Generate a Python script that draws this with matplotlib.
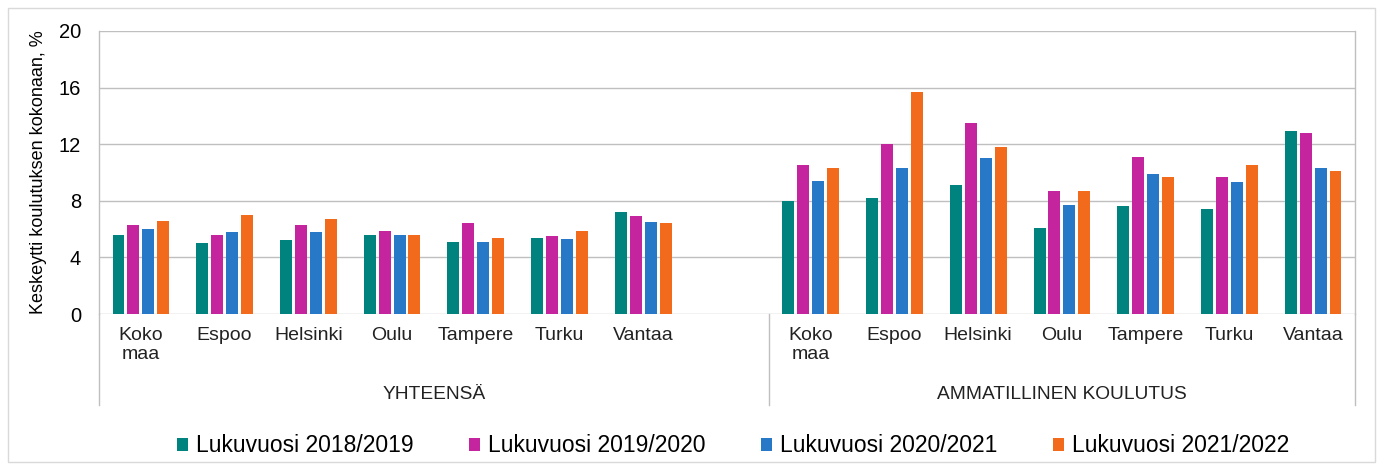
import numpy as np
import matplotlib
matplotlib.use('Agg')
import matplotlib.pyplot as plt
from matplotlib.patches import Rectangle, Patch

plt.rcParams['font.family'] = ['Liberation Sans', 'DejaVu Sans']

# data
cities = ['Koko\nmaa', 'Espoo', 'Helsinki', 'Oulu', 'Tampere', 'Turku', 'Vantaa']
groups = ['YHTEENSÄ', 'AMMATILLINEN KOULUTUS']
years = ['Lukuvuosi 2018/2019', 'Lukuvuosi 2019/2020',
         'Lukuvuosi 2020/2021', 'Lukuvuosi 2021/2022']
colors = ['#00827F', '#C4259F', '#2878C8', '#F26B1D']

# YHTEENSÄ, one list per school year
yht_1819 = [5.6, 5.0, 5.2, 5.6, 5.1, 5.4, 7.2]
yht_1920 = [6.3, 5.6, 6.3, 5.9, 6.4, 5.5, 6.9]
yht_2021 = [6.0, 5.8, 5.8, 5.6, 5.1, 5.3, 6.5]
yht_2122 = [6.6, 7.0, 6.7, 5.6, 5.4, 5.9, 6.4]

# AMMATILLINEN KOULUTUS
amm_1819 = [8.0, 8.2, 9.1, 6.1, 7.6, 7.4, 12.9]
amm_1920 = [10.5, 12.0, 13.5, 8.7, 11.1, 9.7, 12.8]
amm_2021 = [9.4, 10.3, 11.0, 7.7, 9.9, 9.3, 10.3]
amm_2122 = [10.3, 15.7, 11.8, 8.7, 9.7, 10.5, 10.1]

yht = [yht_1819, yht_1920, yht_2021, yht_2122]
amm = [amm_1819, amm_1920, amm_2021, amm_2122]

fig = plt.figure(figsize=(13.81, 4.66), dpi=100)
ax = fig.add_axes([99 / 1381, 1 - 314 / 466, (1355 - 99) / 1381, (314 - 31) / 466])

# outer light frame like the exported chart
fig.patches.append(Rectangle((8 / 1381, 4 / 466), 1367 / 1381, 454 / 466,
                             transform=fig.transFigure, fill=False,
                             edgecolor='#D9D9D9', lw=1.0))

# left group takes 8 slots (one empty), right group 7
pos_left = np.arange(7)
pos_right = np.arange(7) + 8
step = 0.178
width = 0.143
offs = (np.arange(4) - 1.5) * step
for k in range(4):
    ax.bar(pos_left + offs[k], yht[k], width=width, color=colors[k], zorder=3)
    ax.bar(pos_right + offs[k], amm[k], width=width, color=colors[k], zorder=3)

ax.set_xlim(-0.5, 14.5)
ax.set_ylim(0, 20)
ax.set_yticks([0, 4, 8, 12, 16, 20])
ax.yaxis.grid(True, color='#BFBFBF', lw=1.0, zorder=0)
ax.tick_params(axis='y', length=0, labelsize=14.5, pad=13)
ax.tick_params(axis='x', length=0)
ax.set_xticks([])
for s in ['top', 'bottom']:
    ax.spines[s].set_visible(False)
for s in ['left', 'right']:
    ax.spines[s].set_color('#BFBFBF')
    ax.spines[s].set_linewidth(1.0)

ax.set_ylabel('Keskeytti koulutuksen kokonaan, %', fontsize=13, labelpad=8)

# category labels
trans = ax.get_xaxis_transform()
for p, c in zip(list(pos_left) + list(pos_right), cities + cities):
    ax.text(p, -0.045, c, transform=trans, ha='center', va='top',
            fontsize=14, linespacing=1.2, color='#222222')
ax.text(3.5, -0.283, groups[0], transform=trans, ha='center', va='center',
        fontsize=13.8, color='#222222')
ax.text(11, -0.283, groups[1], transform=trans, ha='center', va='center',
        fontsize=13.8, color='#222222')

# vertical group separators below the axis
for xv in [-0.5, 7.5, 14.5]:
    ax.plot([xv, xv], [0, -0.32], transform=trans, color='#BFBFBF',
            lw=1.0, clip_on=False)

handles = [Patch(facecolor=c, edgecolor='none') for c in colors]
fig.legend(handles, years, loc='center', bbox_to_anchor=(733 / 1381, 1 - 446 / 466),
           ncol=4, frameon=False, fontsize=16.5, handlelength=0.5,
           handleheight=0.5, handletextpad=0.35, columnspacing=2.4)

fig.savefig('out.png', dpi=100)
